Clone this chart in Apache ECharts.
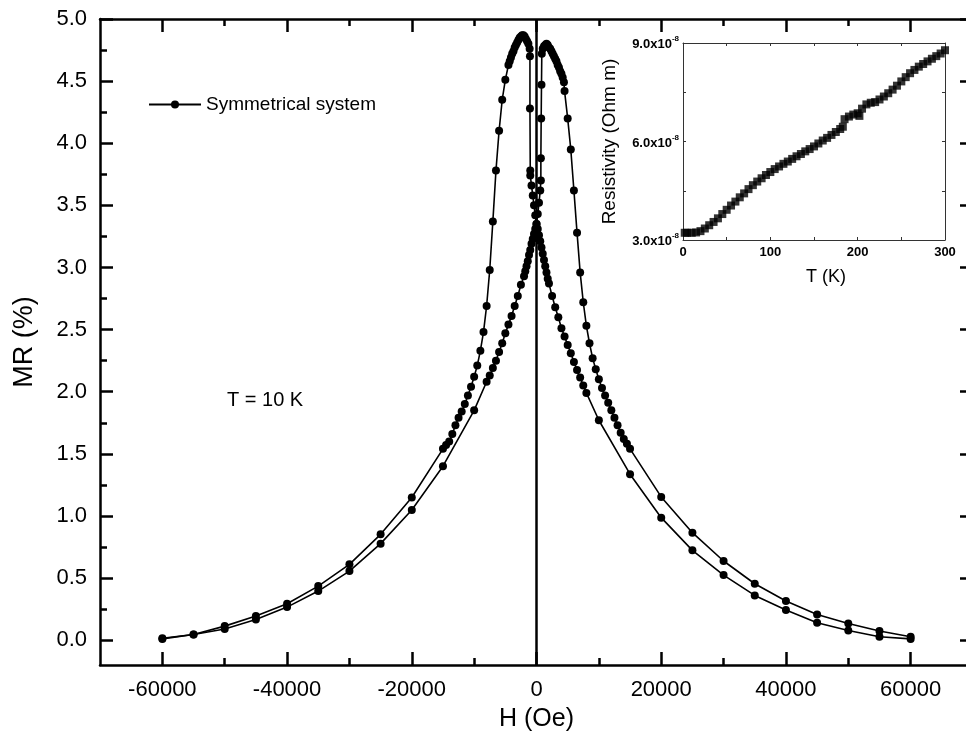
<!DOCTYPE html>
<html>
<head>
<meta charset="utf-8">
<script src="https://cdn.jsdelivr.net/npm/echarts@6/dist/echarts.min.js"></script>
<style>
html,body{margin:0;padding:0;overflow:hidden;background:#fff;width:966px;height:737px;}
#chart{width:980px;height:737px;}
</style>
</head>
<body>
<div id="chart"></div>
<script>
// ---- Main plot data: MR (%) vs H (Oe), T = 10 K ----
// Branch sweeping H upward (-60000 -> +60000)
const upH = [-60000,-55000,-50000,-45000,-40000,-35000,-30000,-25000,-20000,-15000,-10000,-8000,-7500,-7000,-6500,-6000,-5500,-5000,-4500,-4000,-3500,-3000,-2500,-2000,-1800,-1600,-1400,-1200,-1000,-800,-600,-400,-200,0,200,400,600,700,700,750,800,850,1000,1200,1400,1600,1800,2000,2200,2400,2600,2800,3000,3200,3400,3600,3800,4000,4200,4400,4500,5000,5500,6000,6500,7000,7500,8000,8500,9000,9500,10000,10500,11000,11500,12000,12500,13000,13500,14000,14500,15000,20000,25000,30000,35000,40000,45000,50000,55000,60000];
const upMR = [0.01,0.045,0.09,0.167,0.266,0.395,0.556,0.777,1.048,1.40,1.85,2.08,2.13,2.19,2.25,2.32,2.39,2.47,2.54,2.61,2.69,2.77,2.86,2.93,2.97,3.01,3.05,3.10,3.14,3.19,3.23,3.27,3.31,3.35,3.43,3.52,3.62,3.70,3.88,4.20,4.47,4.72,4.76,4.78,4.79,4.80,4.79,4.77,4.76,4.74,4.72,4.70,4.68,4.66,4.63,4.61,4.58,4.56,4.53,4.49,4.42,4.20,3.95,3.62,3.28,2.96,2.72,2.53,2.39,2.27,2.18,2.10,2.03,1.97,1.91,1.85,1.79,1.73,1.67,1.62,1.58,1.54,1.153,0.865,0.637,0.454,0.315,0.207,0.134,0.073,0.027];
// Branch sweeping H downward (+60000 -> -60000)
const downH = [60000,55000,50000,45000,40000,35000,30000,25000,20000,15000,10000,8000,7500,7000,6500,6000,5500,5000,4500,4000,3500,3000,2500,2000,1800,1600,1400,1200,1000,800,600,400,200,0,-200,-400,-600,-800,-1000,-1000,-1050,-1050,-1100,-1300,-1500,-1700,-1900,-2100,-2300,-2500,-2700,-2900,-3100,-3300,-3500,-3700,-3900,-4100,-4300,-4500,-5000,-5500,-6000,-6500,-7000,-7500,-8000,-8500,-9000,-9500,-10000,-10500,-11000,-11500,-12000,-12500,-13000,-13500,-14000,-14500,-15000,-20000,-25000,-30000,-35000,-40000,-45000,-50000,-55000,-60000];
const downMR = [0.01,0.027,0.078,0.140,0.242,0.360,0.524,0.723,0.986,1.336,1.77,1.99,2.05,2.115,2.175,2.24,2.31,2.376,2.444,2.51,2.60,2.68,2.77,2.87,2.91,2.96,3.01,3.06,3.11,3.16,3.21,3.26,3.31,3.35,3.42,3.50,3.58,3.66,3.74,3.78,4.28,4.70,4.76,4.80,4.82,4.84,4.86,4.87,4.87,4.86,4.85,4.83,4.81,4.79,4.77,4.74,4.72,4.69,4.66,4.63,4.51,4.35,4.10,3.78,3.37,2.98,2.69,2.48,2.33,2.21,2.12,2.04,1.97,1.90,1.84,1.79,1.73,1.66,1.60,1.57,1.54,1.148,0.852,0.61,0.435,0.293,0.194,0.113,0.046,0.015];

// Main axis ticks
const xMajorTicks = [-60000,-40000,-20000,0,20000,40000,60000];
const xMinorTicks = [-50000,-30000,-10000,10000,30000,50000];
const yMajorTicks = [0,0.5,1,1.5,2,2.5,3,3.5,4,4.5,5];
const yMinorTicks = [0.25,0.75,1.25,1.75,2.25,2.75,3.25,3.75,4.25,4.75];

// ---- Inset data: resistivity (x10^-8 Ohm m) vs T (K) ----
const insetT = [2,5,10,15,20,25,30,35,40,45,50,55,60,65,70,75,80,85,90,95,100,105,110,115,120,125,130,135,140,145,150,155,160,165,170,175,180,183,185,190,195,200,202,205,210,215,220,225,230,235,240,245,250,255,260,265,270,275,280,285,290,295,300];
const insetRho = [3.22,3.22,3.22,3.23,3.27,3.35,3.45,3.55,3.66,3.79,3.92,4.05,4.17,4.30,4.42,4.55,4.67,4.78,4.88,4.98,5.07,5.16,5.24,5.32,5.39,5.47,5.55,5.62,5.70,5.77,5.85,5.94,6.03,6.11,6.20,6.29,6.38,6.45,6.68,6.76,6.82,6.86,6.78,7.00,7.13,7.18,7.20,7.28,7.37,7.47,7.58,7.70,7.83,7.96,8.08,8.18,8.28,8.36,8.44,8.52,8.60,8.68,8.78];
const insetTTicks = [0,100,200,300];
const insetRhoTicks = [3.0,6.0,9.0];

const FONT = "'Liberation Sans', Arial, sans-serif";
const zip = (a,b) => a.map((v,i)=>[v,b[i]]);

const chart = echarts.init(document.getElementById('chart'), null, {renderer:'canvas'});

const axisLineStyle = {color:'#000', width:2.5};
function xAx(pos, ticks, len, showLine, showLabel){
  return {
    type:'value', gridIndex:0, position:pos, min:-70000, max:70000,
    axisLine:{show:showLine, onZero:false, lineStyle:axisLineStyle},
    axisTick:{show:true, inside:true, length:len, customValues:ticks, lineStyle:{color:'#000', width:2.5}},
    axisLabel:{show:showLabel, customValues:ticks, margin:14, color:'#000', fontSize:22, fontFamily:FONT,
      formatter:v=>String(v)},
    splitLine:{show:false}
  };
}
function yAx(pos, ticks, len, showLine, showLabel){
  return {
    type:'value', gridIndex:0, position:pos, min:-0.2, max:5.0,
    axisLine:{show:showLine, onZero:false, lineStyle:axisLineStyle},
    axisTick:{show:true, inside:true, length:len, customValues:ticks, lineStyle:{color:'#000', width:2.5}},
    axisLabel:{show:showLabel, customValues:ticks, margin:13, color:'#000', fontSize:22, fontFamily:FONT,
      formatter:v=>v.toFixed(1)},
    splitLine:{show:false}
  };
}

const xMain = xAx('bottom', xMajorTicks, 13, true, true);
xMain.name = 'H (Oe)'; xMain.nameLocation='middle'; xMain.nameGap = 42;
xMain.nameTextStyle = {fontSize:25, fontFamily:FONT, color:'#000'};
const yMain = yAx('left', yMajorTicks, 13, true, true);
yMain.name = 'MR (%)'; yMain.nameLocation='middle'; yMain.nameGap = 62;
yMain.nameTextStyle = {fontSize:27, fontFamily:FONT, color:'#000'};

const insetLine = {color:'#333', width:1};
const option = {
  animation:false,
  backgroundColor:'#fff',
  grid:[
    {left:100, right:7, top:19, bottom:72, containLabel:false},
    {left:683, top:43, width:262, height:197, containLabel:false}
  ],
  legend:{
    data:['Symmetrical system'], left:143, top:90, itemWidth:52, itemHeight:10, itemGap:8,
    textStyle:{fontSize:19, fontFamily:FONT, color:'#000'}
  },
  xAxis:[
    xMain,
    xAx('bottom', xMinorTicks, 7, false, false),
    xAx('top', xMajorTicks, 13, true, false),
    xAx('top', xMinorTicks, 7, false, false),
    {
      type:'value', gridIndex:1, min:0, max:300, interval:50, position:'bottom',
      name:'T (K)', nameLocation:'middle', nameGap:28,
      nameTextStyle:{fontSize:18, fontFamily:FONT, color:'#000', padding:[0,0,0,24]},
      axisLine:{show:true, onZero:false, lineStyle:insetLine},
      axisTick:{inside:true, length:3, lineStyle:insetLine},
      axisLabel:{margin:6, fontSize:13, fontWeight:'bold', fontFamily:FONT, color:'#000',
        formatter:v=> insetTTicks.indexOf(v)>=0 ? String(v) : ''},
      splitLine:{show:false}
    },
    {
      type:'value', gridIndex:1, min:0, max:300, interval:50, position:'top',
      axisLine:{show:true, onZero:false, lineStyle:insetLine},
      axisTick:{inside:true, length:3, lineStyle:insetLine},
      axisLabel:{show:false}, splitLine:{show:false}
    }
  ],
  yAxis:[
    yMain,
    yAx('left', yMinorTicks, 7, false, false),
    yAx('right', yMajorTicks, 13, true, false),
    yAx('right', yMinorTicks, 7, false, false),
    {
      type:'value', gridIndex:1, min:3, max:9, interval:1.5, position:'left',
      name:'Resistivity (Ohm m)', nameLocation:'middle', nameGap:64,
      nameTextStyle:{fontSize:19, fontFamily:FONT, color:'#000'},
      axisLine:{show:true, onZero:false, lineStyle:insetLine},
      axisTick:{inside:true, length:3, lineStyle:insetLine},
      axisLabel:{margin:4, color:'#000',
        formatter:v=> insetRhoTicks.indexOf(v)>=0 ? '{b|'+v.toFixed(1)+'x10}{s|-8}' : '',
        rich:{
          b:{fontSize:13, fontWeight:'bold', fontFamily:FONT, color:'#000', lineHeight:16, verticalAlign:'bottom'},
          s:{fontSize:8, fontWeight:'bold', fontFamily:FONT, color:'#000', lineHeight:16, verticalAlign:'top'}
        }},
      splitLine:{show:false}
    },
    {
      type:'value', gridIndex:1, min:3, max:9, interval:1.5, position:'right',
      axisLine:{show:true, onZero:false, lineStyle:insetLine},
      axisTick:{inside:true, length:3, lineStyle:insetLine},
      axisLabel:{show:false}, splitLine:{show:false}
    }
  ],
  graphic:[
    {type:'text', left:227, top:390, style:{text:'T = 10 K', font:'20px '+FONT, fill:'#000'}}
  ],
  series:[
    {
      name:'Symmetrical system', type:'line', xAxisIndex:0, yAxisIndex:0,
      data:zip(upH, upMR), symbol:'circle', symbolSize:8, showSymbol:true,
      itemStyle:{color:'#000'}, lineStyle:{color:'#000', width:1.6},
      markLine:{
        silent:true, symbol:['none','none'], label:{show:false},
        lineStyle:{color:'#000', width:2.5, type:'solid'},
        data:[{xAxis:0}]
      }
    },
    {
      name:'Symmetrical system', type:'line', xAxisIndex:0, yAxisIndex:0,
      data:zip(downH, downMR), symbol:'circle', symbolSize:8, showSymbol:true,
      itemStyle:{color:'#000'}, lineStyle:{color:'#000', width:1.6}
    },
    {
      name:'Resistivity', type:'scatter', xAxisIndex:4, yAxisIndex:4,
      data:zip(insetT, insetRho), symbol:'rect', symbolSize:8,
      itemStyle:{color:'#000'}
    }
  ]
};
chart.setOption(option);
</script>
</body>
</html>
